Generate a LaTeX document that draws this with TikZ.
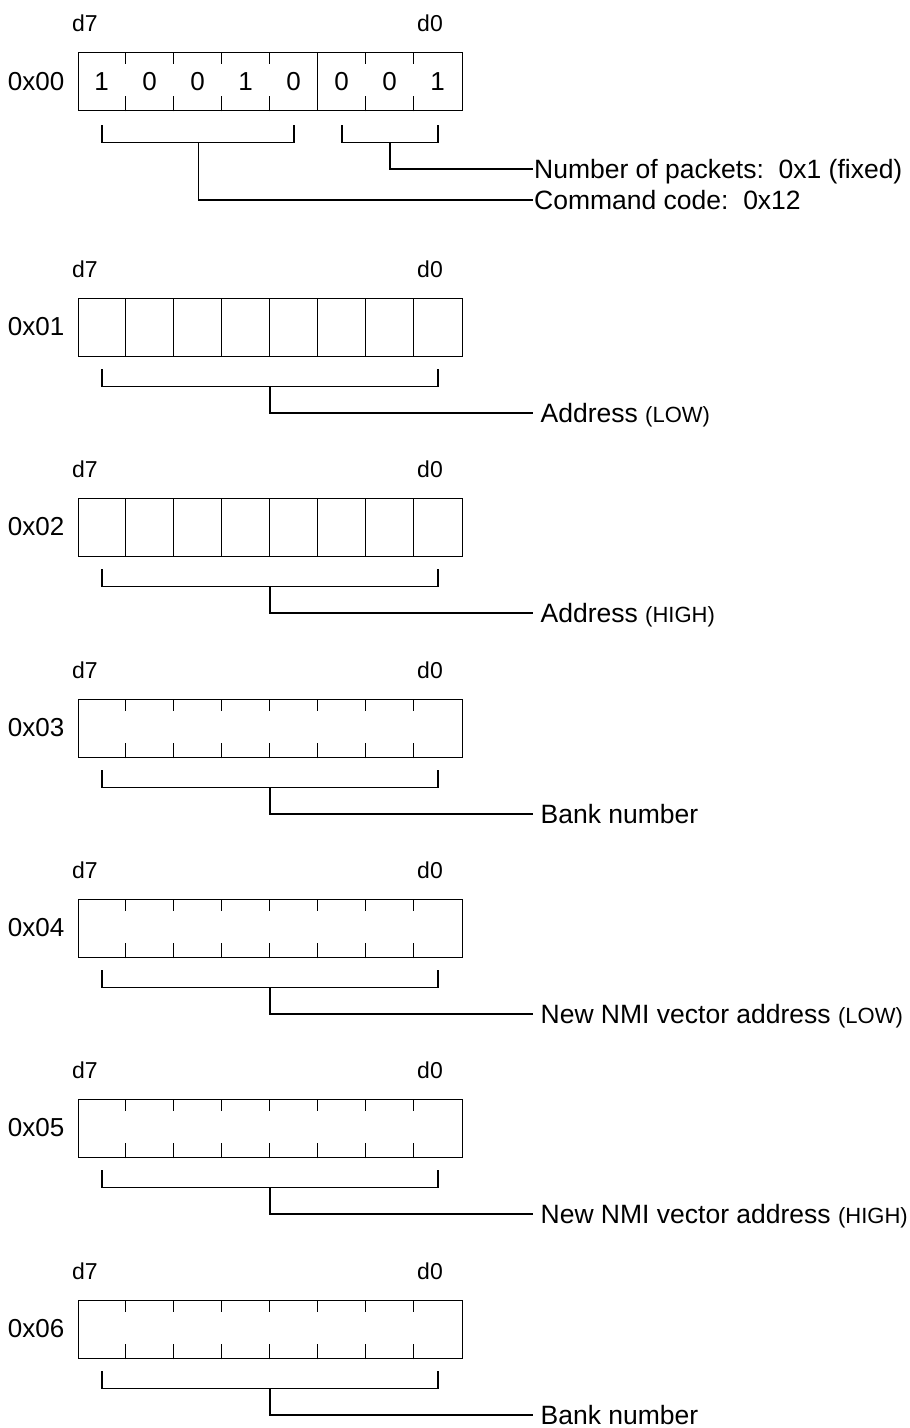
\documentclass[tikz,border=0pt]{standalone}
\usepackage{fontspec}
\setmainfont{Liberation Sans}
\usetikzlibrary{calc}
\newcommand{\regsmall}[1]{{\fontsize{22}{26}\selectfont #1}}

\begin{document}
\begin{tikzpicture}[
  x=1pt, y=-1pt, line width=1.3pt,
  regbox/.style={draw, anchor=north west, minimum width=384pt, minimum height=58pt, inner sep=0pt},
  addr/.style={anchor=east, inner sep=0pt, font=\fontsize{26}{30}\selectfont, text height=18.6pt, text depth=0pt},
  msb/.style={inner sep=0pt, font=\fontsize{23}{27}\selectfont, text height=16.5pt, text depth=0pt},
  bitval/.style={inner sep=0pt, font=\fontsize{26}{30}\selectfont, text height=18.6pt, text depth=0pt},
  desc/.style={anchor=west, inner xsep=7pt, inner ysep=0pt, font=\fontsize{26.5}{31}\selectfont, text height=19pt, text depth=0pt},
]
  \useasboundingbox (0,0) rectangle (910,1428);

  % Byte 0x00: command byte
  \node[addr] (addr0) at (65,81) {0x00};
  \node[msb] (hi0) at (85,23) {d7};
  \node[msb] (lo0) at (430,23) {d0};
  \node[regbox] (box0) at (77.5,52) {};
  \foreach \i/\v in {0/1, 1/0, 2/0, 3/1, 4/0, 5/0, 6/0, 7/1} {
    \node[bitval] (bit0\i) at ($(box0.north west)+(24+48*\i,29)$) {\v};
  }
  \foreach \i in {1,2,3,4,6,7} {
    \draw ($(box0.north west)+(48*\i,0)$) -- ++(0,12);
    \draw ($(box0.south west)+(48*\i,0)$) -- ++(0,-15);
  }
  \draw ($(box0.north west)+(240,0)$) -- ($(box0.south west)+(240,0)$);
  % Brackets
  \draw ($(box0.south west)+(24.5,14)$) -- ++(0,17) -| ($(box0.south west)+(216.5,14)$);
  \draw ($(box0.south west)+(264.5,14)$) -- ++(0,17) -| ($(box0.south west)+(360.5,14)$);
  \coordinate (stem0a) at ($(box0.south west)+(312.5,31)$);
  \coordinate (stem0b) at ($(box0.south west)+(121,31)$);
  \node[desc, inner xsep=0.5pt] (desc0a) at (533,169) {Number of packets:\ \ 0x1 (fixed)};
  \node[desc, inner xsep=0.5pt] (desc0b) at (533,200) {Command code:\ \ 0x12};
  \draw (stem0a) |- (desc0a.west);
  \draw (stem0b) |- (desc0b.west);

  % Bytes 0x01-0x02: address
  \foreach \n/\T/\txt in {1/298/{Address \regsmall{(LOW)}}, 2/498/{Address \regsmall{(HIGH)}}} {
    \node[addr] (addr\n) at (65,\T+28) {0x0\n};
    \node[msb] (hi\n) at (85,\T-29) {d7};
    \node[msb] (lo\n) at (430,\T-29) {d0};
    \node[regbox] (box\n) at (77.5,\T) {};
    \foreach \i in {1,...,7}
      \draw ($(box\n.north west)+(48*\i,0)$) -- ($(box\n.south west)+(48*\i,0)$);
    \draw ($(box\n.south west)+(24.5,12)$) -- ++(0,17) -| ($(box\n.south west)+(360.5,12)$);
    \coordinate (stem\n) at ($(box\n.south west)+(192.5,29)$);
    \node[desc] (desc\n) at (533,\T+115) {\txt};
    \draw (stem\n) |- (desc\n.west);
  }

  % Bytes 0x03-0x06: bank and NMI vector
  \foreach \n/\T/\txt in {3/699/{Bank number},
      4/899/{New NMI vector address \regsmall{(LOW)}},
      5/1099/{New NMI vector address \regsmall{(HIGH)}},
      6/1300/{Bank number}} {
    \node[addr] (addr\n) at (65,\T+28) {0x0\n};
    \node[msb] (hi\n) at (85,\T-29) {d7};
    \node[msb] (lo\n) at (430,\T-29) {d0};
    \node[regbox] (box\n) at (77.5,\T) {};
    \foreach \i in {1,...,7} {
      \draw ($(box\n.north west)+(48*\i,0)$) -- ++(0,12);
      \draw ($(box\n.south west)+(48*\i,0)$) -- ++(0,-15);
    }
    \draw ($(box\n.south west)+(24.5,12)$) -- ++(0,17) -| ($(box\n.south west)+(360.5,12)$);
    \coordinate (stem\n) at ($(box\n.south west)+(192.5,29)$);
    \node[desc] (desc\n) at (533,\T+115) {\txt};
    \draw (stem\n) |- (desc\n.west);
  }
\end{tikzpicture}
\end{document}
